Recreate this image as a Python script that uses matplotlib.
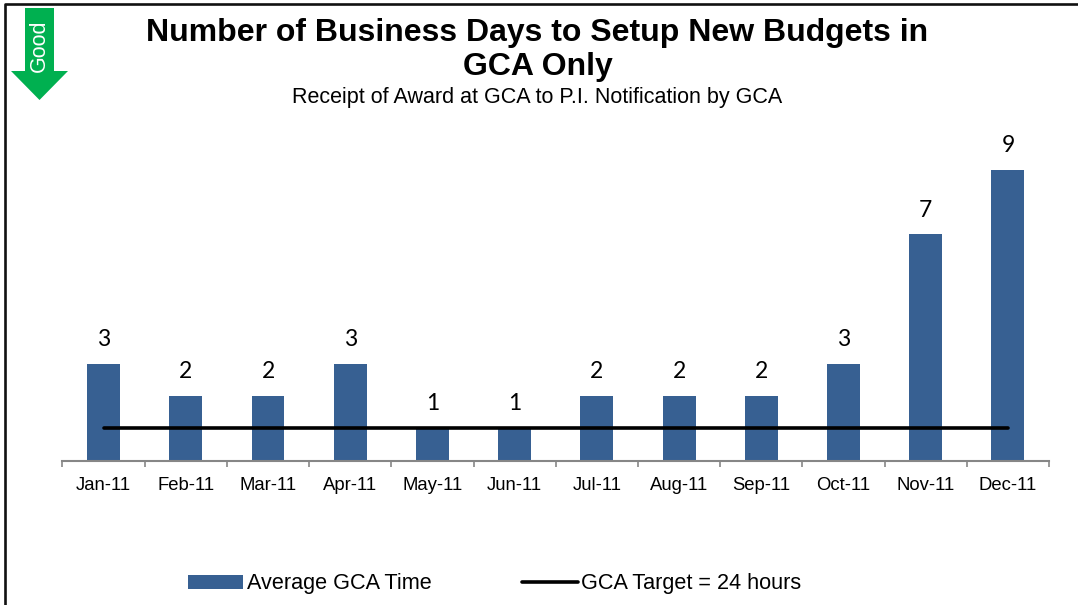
import matplotlib
matplotlib.use('Agg')
import matplotlib.pyplot as plt
from matplotlib.patches import Polygon
from matplotlib.lines import Line2D

W, H = 1078, 605

# Data
months = ['Jan-11', 'Feb-11', 'Mar-11', 'Apr-11', 'May-11', 'Jun-11',
          'Jul-11', 'Aug-11', 'Sep-11', 'Oct-11', 'Nov-11', 'Dec-11']
avg_gca_time = [3, 2, 2, 3, 1, 1, 2, 2, 2, 3, 7, 9]
gca_target = [1, 1, 1, 1, 1, 1, 1, 1, 1, 1, 1, 1]

BAR_COLOR = '#376092'
ARROW_COLOR = '#00B050'
AXIS_COLOR = '#868686'

plt.rcParams['font.family'] = ['Liberation Sans', 'DejaVu Sans']


# Pixel position (from top left) to figure fraction
def px(x, y):
    return x / W, 1 - y / H


fig = plt.figure(figsize=(W / 100, H / 100), dpi=100)
ax = fig.add_axes([62.5 / W, 1 - 460.5 / H, (1049 - 62.5) / W, 323 / H])

xs = list(range(len(months)))
bars = ax.bar(xs, avg_gca_time, width=0.4, color=BAR_COLOR, label='Average GCA Time')
line, = ax.plot(xs, gca_target, color='black', lw=2.6, solid_capstyle='round',
                label='GCA Target = 24 hours')

# Value labels above each bar
for x, v in zip(xs, avg_gca_time):
    ax.annotate(str(v), (x, v), xytext=(0, 10), textcoords='offset points',
                ha='center', va='bottom', fontsize=16.5, family='Lato', color='black')

ax.set_xlim(-0.5, 11.5)
ax.set_ylim(0, 10)
ax.set_yticks([])
for side in ['top', 'left', 'right']:
    ax.spines[side].set_visible(False)
ax.spines['bottom'].set_color(AXIS_COLOR)
ax.spines['bottom'].set_linewidth(1.5)

# Ticks sit between the categories, labels in the middle
ax.set_xticks([x - 0.5 for x in xs] + [11.5])
ax.set_xticklabels([])
ax.tick_params(axis='x', which='major', length=4.5, width=1.2, color=AXIS_COLOR)
ax.set_xticks(xs, minor=True)
ax.set_xticklabels(months, minor=True, fontsize=13.3)
ax.tick_params(axis='x', which='minor', length=0, pad=12)

# Titles
tx, ty = px(537.5, 50)
fig.text(tx, ty, 'Number of Business Days to Setup New Budgets in\nGCA Only',
         ha='center', va='center', fontsize=23, fontweight='bold', linespacing=1.2)
tx, ty = px(537.5, 98)
fig.text(tx, ty, 'Receipt of Award at GCA to P.I. Notification by GCA',
         ha='center', va='center', fontsize=15.5)

# Legend
fig.legend(handles=[bars, line], loc='center', bbox_to_anchor=px(494.5, 584), ncol=2,
           frameon=False, fontsize=15.6, handlelength=2.55, handleheight=0.6,
           handletextpad=0.15, columnspacing=4.2, borderpad=0)

# Green "Good" arrow
arrow = [(25, 8), (54, 8), (54, 71), (68, 71), (39.5, 100), (11, 71), (25, 71)]
fig.add_artist(Polygon([px(x, y) for x, y in arrow], closed=True, facecolor=ARROW_COLOR,
                       edgecolor='none', transform=fig.transFigure))
tx, ty = px(39.5, 46)
fig.text(tx, ty, 'Good', color='white', rotation=90, ha='center', va='center', fontsize=15.5)

# Slide border on the left and top
bx = [px(5, 605)[0], px(5, 4)[0], 1]
by = [0, px(5, 4)[1], px(5, 4)[1]]
fig.add_artist(Line2D(bx, by, color='#111111', lw=1.9, transform=fig.transFigure))

fig.savefig('out.png', dpi=100)
